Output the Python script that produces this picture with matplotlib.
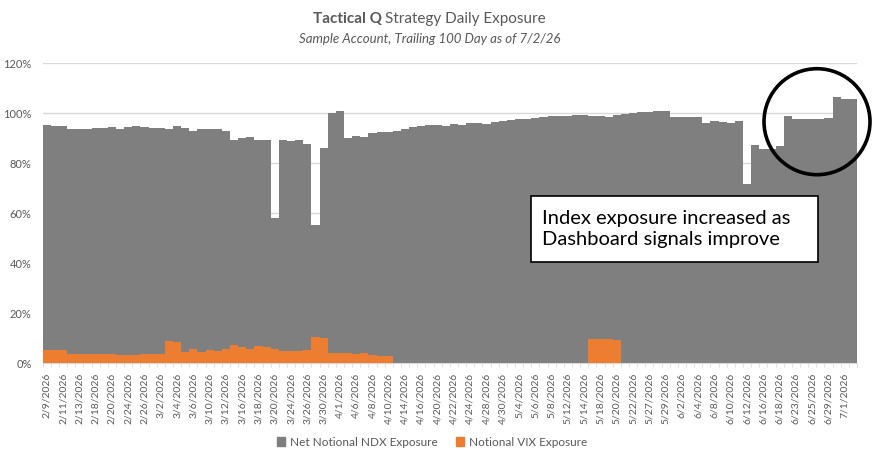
import numpy as np
import matplotlib
matplotlib.use("Agg")
import matplotlib.pyplot as plt
from matplotlib.patches import Patch, Ellipse, Rectangle

plt.rcParams['font.family'] = ['Lato', 'DejaVu Sans']

# trading days, 2/9/2026 .. 7/2/2026 (100 days)
trade_days = {
    2: [9, 10, 11, 12, 13, 17, 18, 19, 20, 23, 24, 25, 26, 27],
    3: [2, 3, 4, 5, 6, 9, 10, 11, 12, 13, 16, 17, 18, 19, 20, 23, 24, 25, 26, 27, 30, 31],
    4: [1, 2, 6, 7, 8, 9, 10, 13, 14, 15, 16, 17, 20, 21, 22, 23, 24, 27, 28, 29, 30],
    5: [1, 4, 5, 6, 7, 8, 11, 12, 13, 14, 15, 18, 19, 20, 21, 22, 26, 27, 28, 29],
    6: [1, 2, 3, 4, 5, 8, 9, 10, 11, 12, 15, 16, 17, 18, 22, 23, 24, 25, 26, 29, 30],
    7: [1, 2],
}
dates = ["%d/%d/2026" % (m, d) for m in trade_days for d in trade_days[m]]

# Net Notional NDX Exposure (%)
ndx = [95.3, 94.9, 94.9, 93.7, 93.7, 93.7, 94.1, 94.1, 94.5, 93.7,
       94.5, 94.9, 94.5, 94.1, 94.1, 93.7, 94.9, 94.1, 92.9, 93.7,
       93.7, 93.7, 92.9, 89.4, 90.1, 90.5, 89.3, 89.3, 58.2, 89.3,
       88.9, 89.3, 87.9, 55.5, 86.1, 100.2, 101.0, 90.2, 91.0, 90.5,
       92.0, 92.4, 92.6, 93.0, 93.7, 94.4, 94.8, 95.3, 95.3, 95.0,
       95.7, 95.3, 96.1, 96.1, 95.7, 96.4, 96.8, 97.2, 97.6, 97.8,
       98.2, 98.5, 98.8, 98.8, 98.9, 99.3, 99.3, 98.9, 98.9, 98.5,
       99.3, 99.7, 100.0, 100.5, 100.5, 101.0, 101.0, 98.6, 98.6, 98.6,
       98.6, 96.1, 97.0, 96.6, 96.0, 97.0, 71.6, 87.3, 85.7, 85.7,
       86.9, 99.0, 97.8, 97.6, 97.8, 97.6, 98.2, 106.4, 105.9, 105.6]

# Notional VIX Exposure (%)
vix = [5.3, 5.3, 5.2, 3.7, 3.7, 3.7, 3.7, 3.7, 3.6, 3.5,
       3.4, 3.4, 3.6, 3.7, 3.7, 9.1, 8.4, 4.7, 5.6, 4.7,
       5.4, 5.1, 5.8, 7.2, 6.4, 5.9, 7.1, 6.7, 5.8, 5.0,
       5.1, 4.8, 5.4, 10.4, 10.2, 4.0, 4.0, 4.1, 3.7, 4.0,
       3.5, 3.0, 2.9, 0, 0, 0, 0, 0, 0, 0,
       0, 0, 0, 0, 0, 0, 0, 0, 0, 0,
       0, 0, 0, 0, 0, 0, 0, 9.8, 9.7, 9.6,
       9.3, 0, 0, 0, 0, 0, 0, 0, 0, 0,
       0, 0, 0, 0, 0, 0, 0, 0, 0, 0,
       0, 0, 0, 0, 0, 0, 0, 0, 0, 0]

W, H = 879, 466
GRAY = '#7F7F7F'
ORANGE = '#ED7D31'
TXT = '#595959'
GRID = '#D9D9D9'


def fx(px):
    return px / W


def fy(py):
    return 1 - py / H


def main():
    fig = plt.figure(figsize=(W / 100, H / 100), dpi=100)
    ax = fig.add_axes([fx(42.7), fy(363.3), fx(857) - fx(42.7), fy(63.3) - fy(363.3)])

    x = np.arange(len(dates))
    ax.bar(x, np.array(ndx) / 100, width=1.0, color=GRAY, zorder=2)
    ax.bar(x, np.array(vix) / 100, width=1.0, color=ORANGE, zorder=3)

    ax.set_xlim(-0.5, len(dates) - 0.5)
    ax.set_ylim(0, 1.2)
    ax.set_yticks(np.arange(0, 1.21, 0.2))
    ax.set_yticklabels(['%d%%' % round(v * 100) for v in np.arange(0, 1.21, 0.2)])
    ax.yaxis.grid(True, color=GRID, linewidth=1.0, zorder=0)
    ax.set_axisbelow(True)

    ax.set_xticks(x[::2])
    ax.set_xticklabels(dates[::2], rotation=90)
    ax.set_xticks(np.arange(-0.5, len(dates), 1), minor=True)
    ax.tick_params(axis='x', which='major', length=0, pad=7, labelsize=7.5, labelcolor=TXT)
    ax.tick_params(axis='x', which='minor', length=3, color=GRID)
    ax.tick_params(axis='y', length=0, pad=8, labelsize=8, labelcolor=TXT)

    for s in ['top', 'right', 'left']:
        ax.spines[s].set_visible(False)
    ax.spines['bottom'].set_color(GRID)

    # title
    fig.text(fx(382), fy(19), 'Tactical Q', ha='right', va='center',
             fontsize=11, fontweight='bold', color=TXT)
    fig.text(fx(385), fy(19), 'Strategy Daily Exposure', ha='left', va='center',
             fontsize=11, color=TXT)
    fig.text(fx(430), fy(39), 'Sample Account, Trailing 100 Day as of 7/2/26',
             ha='center', va='center', fontsize=9.5, style='italic', color=TXT)

    # annotation box
    box = Rectangle((fx(531), fy(262)), fx(818) - fx(531), fy(196) - fy(262),
                    transform=fig.transFigure, facecolor='white', edgecolor='black',
                    linewidth=1.2, zorder=10)
    fig.patches.append(box)
    fig.text(fx(542), fy(229), 'Index exposure increased as\nDashboard signals improve',
             ha='left', va='center', fontsize=14.5, color='black', linespacing=1.3,
             zorder=11)

    # circle around the last days
    circ = Ellipse((fx(817), fy(121.7)), 106 / W, 106 / H, transform=fig.transFigure,
                   fill=False, edgecolor='black', linewidth=2.6, zorder=10)
    fig.patches.append(circ)

    handles = [Patch(color=GRAY, label='Net Notional NDX Exposure'),
               Patch(color=ORANGE, label='Notional VIX Exposure')]
    fig.legend(handles=handles, loc='center', bbox_to_anchor=(fx(432), fy(442)),
               ncol=2, frameon=False, fontsize=8.5, labelcolor=TXT,
               handlelength=0.7, handleheight=0.7, handletextpad=0.4, columnspacing=1.5)

    fig.savefig('out.png', dpi=100)


if __name__ == "__main__":
    main()
